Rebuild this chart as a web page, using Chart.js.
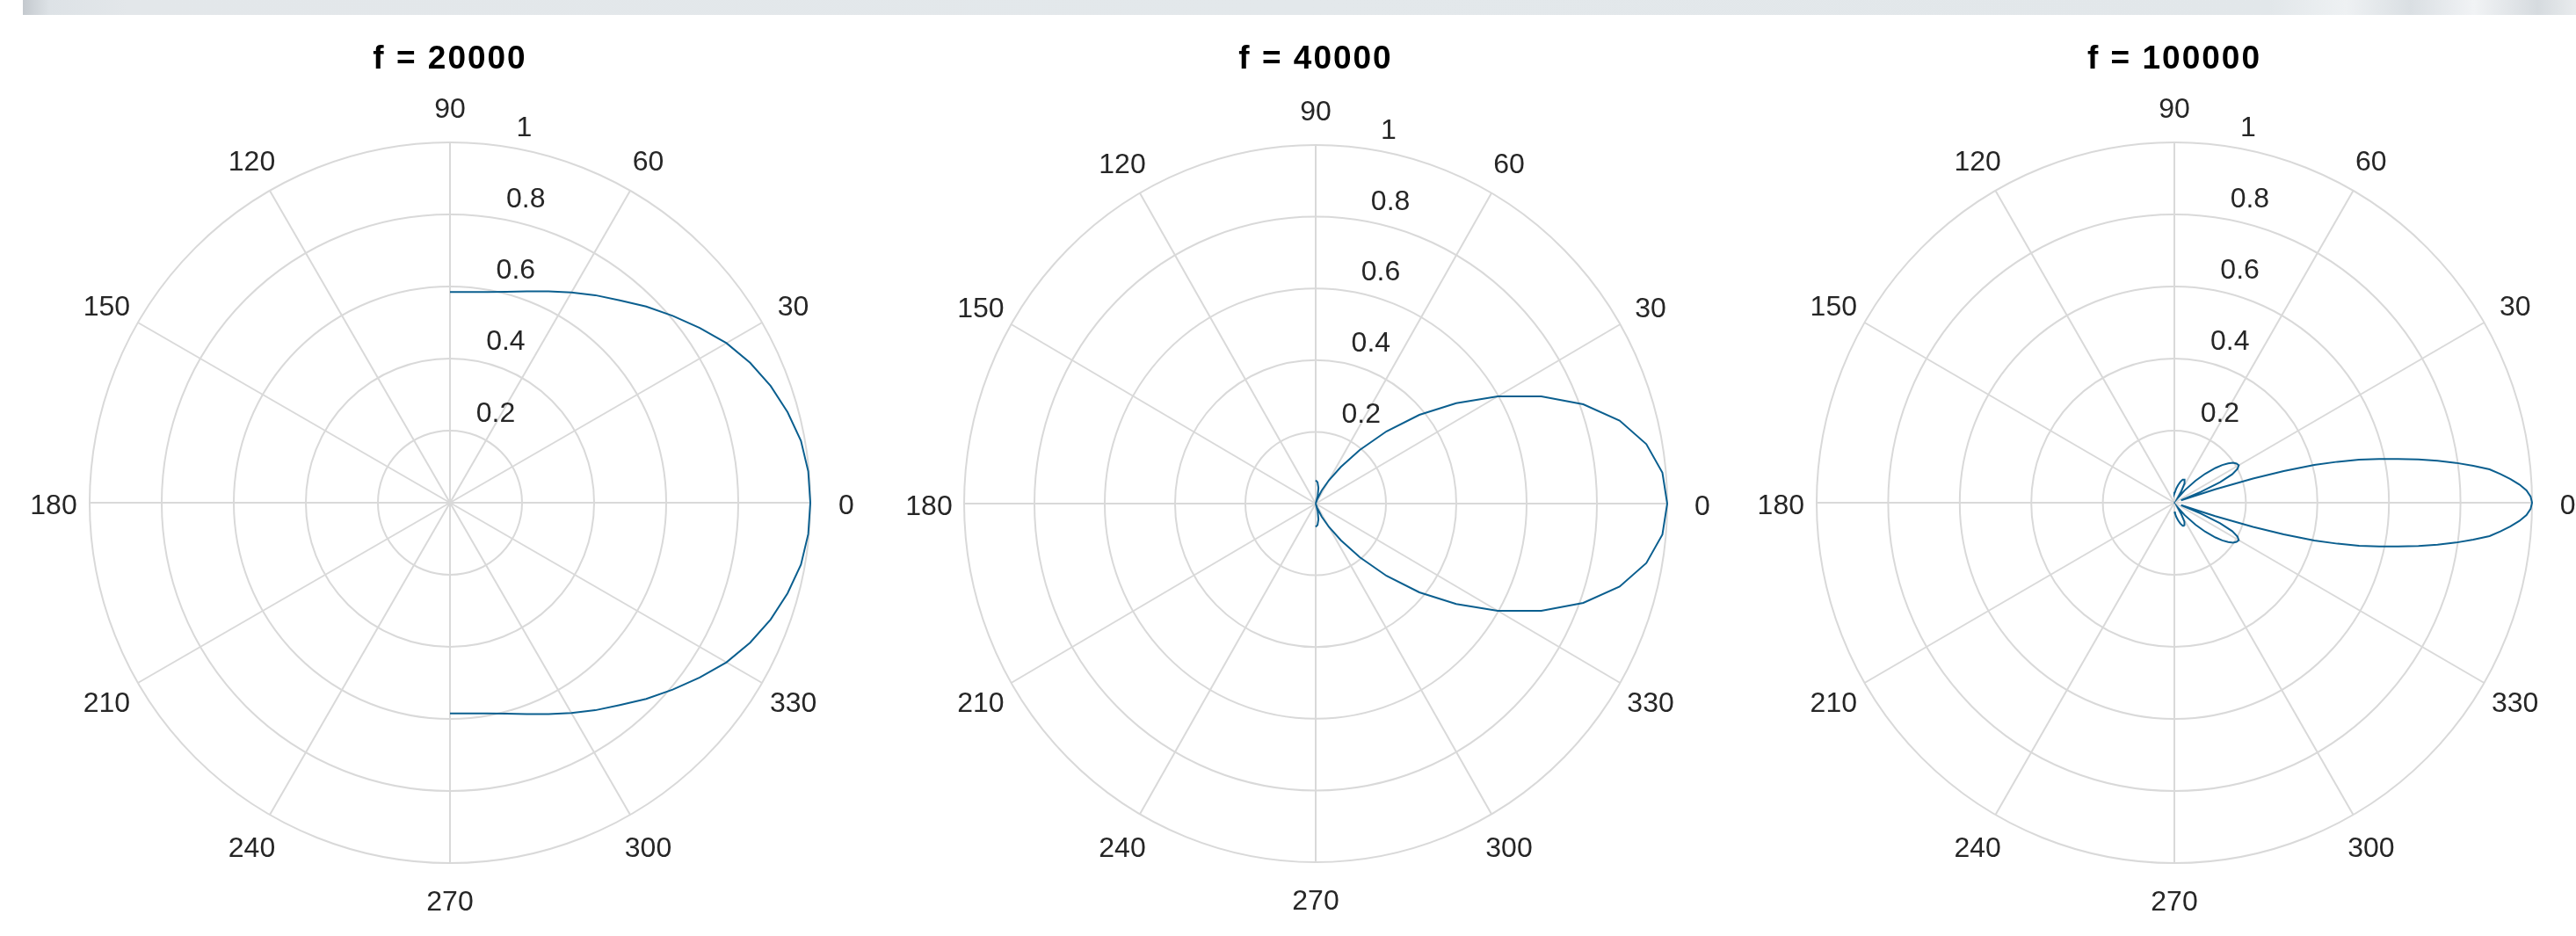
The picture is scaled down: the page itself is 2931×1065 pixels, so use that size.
<!DOCTYPE html>
<html>
<head>
<meta charset="utf-8">
<title>Directivity f = 20000 / 40000 / 100000</title>
<script src="https://cdn.jsdelivr.net/npm/chart.js@4.4.1/dist/chart.umd.min.js"></script>
<style>
    html, body { margin: 0; padding: 0; background: #ffffff; overflow: hidden; }
    body { position: relative; width: 2931px; height: 1065px; }
    #topStrip {
        position: absolute; left: 26px; top: 0; width: 2905px; height: 17px;
        background: linear-gradient(to right, #c4c9ce 0px, #dde2e6 30px, #e3e7ea 120px,
            #e3e8eb 50%, #e2e7ea 88%, #eef1f3 91%, #dadfe3 93.5%, #f1f3f5 96%, #d6dbdf 98.5%, #e9ecee 100%);
    }
    canvas.polar { position: absolute; top: 0; }
</style>
</head>
<body>
<div id="topStrip"></div>
<canvas id="polar1" class="polar" width="980" height="1065"></canvas>
<canvas id="polar2" class="polar" width="980" height="1065"></canvas>
<canvas id="polar3" class="polar" width="980" height="1065"></canvas>
<script>
// ---------------------------------------------------------------------------
// Data (angle in degrees, normalised amplitude)
// ---------------------------------------------------------------------------
const titles = ['f = 20000', 'f = 40000', 'f = 100000'];
const angleTicks = [0, 30, 60, 90, 120, 150, 180, 210, 240, 270, 300, 330];
const radialTicks = [0.2, 0.4, 0.6, 0.8, 1];

const theta1 = [-90, -85, -80, -75, -70, -65, -60, -55, -50, -45, -40, -35, -30, -25, -20, -15, -10, -5,
    0, 5, 10, 15, 20, 25, 30, 35, 40, 45, 50, 55, 60, 65, 70, 75, 80, 85, 90];
const rho1 = [0.585, 0.587, 0.594, 0.606, 0.624, 0.647, 0.674, 0.703, 0.733, 0.770, 0.807, 0.846, 0.886, 0.919, 0.947, 0.970, 0.989, 0.998,
    1.000, 0.998, 0.989, 0.970, 0.947, 0.919, 0.886, 0.846, 0.807, 0.770, 0.733, 0.703, 0.674, 0.647, 0.624, 0.606, 0.594, 0.587, 0.585];

const theta2 = [-90, -85, -80, -75, -72, -70, -65, -60, -55, -50, -45, -40, -35, -30, -25, -20, -15, -10, -5,
    0, 5, 10, 15, 20, 25, 30, 35, 40, 45, 50, 55, 60, 65, 70, 72, 75, 80, 85, 90];
const rho2 = [0.065, 0.060, 0.045, 0.022, 0.000, 0.012, 0.040, 0.075, 0.125, 0.195, 0.285, 0.385, 0.488, 0.598, 0.708, 0.810, 0.895, 0.955, 0.990,
    1.000, 0.990, 0.955, 0.895, 0.810, 0.708, 0.598, 0.488, 0.385, 0.285, 0.195, 0.125, 0.075, 0.040, 0.012, 0.000, 0.022, 0.045, 0.060, 0.065];

const theta3 = [-90, -86, -82, -78, -74, -70, -66, -62, -58, -54, -50, -46, -43, -40, -38, -36, -34, -32, -30, -28, -26, -24, -22,
    -20, -19, -18, -17, -16, -15, -14, -13, -12, -11, -10, -9, -8, -7, -6, -5, -4, -3, -2, -1,
    0, 1, 2, 3, 4, 5, 6, 7, 8, 9, 10, 11, 12, 13, 14, 15, 16, 17, 18, 19, 20,
    22, 24, 26, 28, 30, 32, 34, 36, 38, 40, 43, 46, 50, 54, 58, 62, 66, 70, 74, 78, 82, 86, 90];
const rho3 = [0.025, 0.030, 0.040, 0.050, 0.060, 0.068, 0.070, 0.060, 0.035, 0.015, 0.045, 0.085, 0.118, 0.150, 0.170, 0.186, 0.198, 0.205, 0.208, 0.200, 0.180, 0.140, 0.080,
    0.020, 0.030, 0.120, 0.230, 0.318, 0.405, 0.470, 0.530, 0.585, 0.637, 0.693, 0.745, 0.795, 0.842, 0.886, 0.915, 0.942, 0.966, 0.985, 0.996,
    1.000, 0.996, 0.985, 0.966, 0.942, 0.915, 0.886, 0.842, 0.795, 0.745, 0.693, 0.637, 0.585, 0.530, 0.470, 0.405, 0.318, 0.230, 0.120, 0.030, 0.020,
    0.080, 0.140, 0.180, 0.200, 0.208, 0.205, 0.198, 0.186, 0.170, 0.150, 0.118, 0.085, 0.045, 0.015, 0.035, 0.060, 0.070, 0.068, 0.060, 0.050, 0.040, 0.030, 0.025];

// ---------------------------------------------------------------------------
// Layout (pixels) and styling
// ---------------------------------------------------------------------------
const PAGE_H = 1065;
const HALF_W = 490;          // half width of each canvas
const TITLE_BASELINE = 78;   // canvas y of the title baseline
const GRID_COLOR = '#d9d9d9';
const TEXT_COLOR = '#262626';
const LINE_COLOR = '#0b5f8f';
const FONT = '"Liberation Sans", Arial, Helvetica, sans-serif';

const panels = [
    { id: 'polar1', cx: 512, cy: 572, rx: 410, ry: 410, theta: theta1, rho: rho1, title: titles[0] },
    { id: 'polar2', cx: 1497, cy: 573, rx: 400, ry: 408, theta: theta2, rho: rho2, title: titles[1] },
    { id: 'polar3', cx: 2474, cy: 572, rx: 407, ry: 410, theta: theta3, rho: rho3, title: titles[2] }
];

const DEG = Math.PI / 180;

/**
 * Draws the MATLAB style polar grid (circles, spokes, tick labels, title)
 * using the chart's own x / y scales.
 */
const polarGridPlugin = {
    id: 'polarGrid',
    beforeDatasetsDraw(chart, args, opts) {
        const { ctx } = chart;
        const xs = chart.scales.x;
        const ys = chart.scales.y;
        const rmax = radialTicks[radialTicks.length - 1];
        const px = v => xs.getPixelForValue(v);
        const py = v => ys.getPixelForValue(v);
        const cx = px(0);
        const cy = py(0);

        ctx.save();

        // circles
        ctx.strokeStyle = GRID_COLOR;
        ctx.lineWidth = 2;
        radialTicks.forEach(v => {
            ctx.beginPath();
            ctx.ellipse(cx, cy, px(v) - cx, cy - py(v), 0, 0, 2 * Math.PI);
            ctx.stroke();
        });

        // spokes through the full diameter every 30 degrees
        angleTicks.filter(a => a > 0 && a <= 180).forEach(a => {
            const c = Math.cos(a * DEG) * rmax;
            const s = Math.sin(a * DEG) * rmax;
            ctx.beginPath();
            ctx.moveTo(px(-c), py(-s));
            ctx.lineTo(px(c), py(s));
            ctx.stroke();
        });

        // angle labels at 1.1 * rmax
        ctx.fillStyle = TEXT_COLOR;
        ctx.font = '32px ' + FONT;
        ctx.textAlign = 'center';
        ctx.textBaseline = 'middle';
        angleTicks.forEach(a => {
            const r = 1.1 * rmax;
            ctx.fillText(String(a), px(r * Math.cos(a * DEG)), py(r * Math.sin(a * DEG)) + 4);
        });

        // radial labels along 82 degrees, left aligned, bottom aligned
        ctx.textAlign = 'left';
        ctx.textBaseline = 'bottom';
        const lead = ctx.measureText('  ').width;
        const rinc = radialTicks[0];
        radialTicks.forEach(v => {
            const r = v + rinc / 20;
            ctx.fillText(String(v), px(r * Math.cos(82 * DEG)) + lead, py(r * Math.sin(82 * DEG)));
        });

        // title
        ctx.fillStyle = '#000000';
        ctx.font = 'bold 37px ' + FONT;
        ctx.textAlign = 'center';
        ctx.textBaseline = 'alphabetic';
        if ('letterSpacing' in ctx) ctx.letterSpacing = '2px';
        ctx.fillText(opts.title, cx, TITLE_BASELINE);

        ctx.restore();
    }
};

panels.forEach(p => {
    const canvas = document.getElementById(p.id);
    canvas.style.left = (p.cx - HALF_W) + 'px';

    const points = p.theta.map((t, i) => ({
        x: p.rho[i] * Math.cos(t * DEG),
        y: p.rho[i] * Math.sin(t * DEG)
    }));

    new Chart(canvas, {
        type: 'scatter',
        data: {
            datasets: [{
                data: points,
                showLine: true,
                borderColor: LINE_COLOR,
                borderWidth: 2,
                pointRadius: 0,
                tension: 0,
                fill: false
            }]
        },
        options: {
            responsive: false,
            animation: false,
            events: [],
            layout: { padding: 0 },
            scales: {
                x: { type: 'linear', display: false, min: -HALF_W / p.rx, max: HALF_W / p.rx },
                y: { type: 'linear', display: false, min: -(PAGE_H - p.cy) / p.ry, max: p.cy / p.ry }
            },
            plugins: {
                legend: { display: false },
                tooltip: { enabled: false },
                polarGrid: { title: p.title }
            }
        },
        plugins: [polarGridPlugin]
    });
});
</script>
</body>
</html>
